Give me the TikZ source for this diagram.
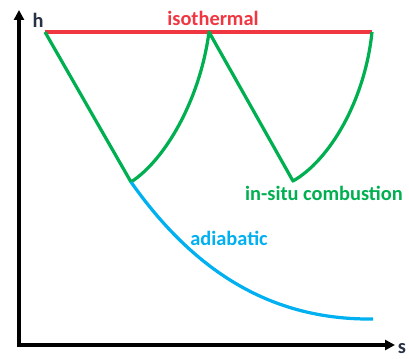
\documentclass[tikz,border=0pt]{standalone}
\usepackage{fontspec}
\setmainfont{Carlito}
\usetikzlibrary{arrows.meta}
\definecolor{isored}{RGB}{240,55,65}
\definecolor{combgreen}{RGB}{0,176,80}
\definecolor{adiablue}{RGB}{0,176,240}
\definecolor{axisink}{RGB}{40,50,70}
\begin{document}
\begin{tikzpicture}[
  x=0.025cm, y=-0.025cm,
  axis/.style={draw=black, line width=2.4pt, -{Triangle[length=7pt,width=7pt]}},
  iso/.style={draw=isored, line width=2.3pt},
  comb/.style={draw=combgreen, line width=2.3pt, line join=round},
  adia/.style={draw=adiablue, line width=2.3pt},
  lbl/.style={font=\fontsize{14.5}{16}\selectfont\bfseries, inner sep=0pt}
]
  \useasboundingbox (0,0) rectangle (409,358);

  % Axes.
  \coordinate (O) at (19,345);
  \coordinate (ytop) at (19,10);
  \coordinate (xend) at (395,345);
  \draw[axis] (O |- 0,347) -- (ytop);
  \draw[axis] (17,345) -- (xend);
  \node[lbl, text=axisink] (h) at (38,20) {h};
  \node[lbl, text=axisink] (s) at (402,349) {s};

  % Isothermal.
  \coordinate (A) at (45,32);
  \coordinate (B) at (209,32);
  \coordinate (C) at (372,32);
  \draw[iso] (A) -- (C);
  \node[lbl, text=isored] (isolbl) at (213,18) {isothermal};

  % In-situ combustion.
  \coordinate (P) at (131,182);
  \coordinate (Q) at (293,181);
  \draw[comb] (A) -- (P) .. controls (165,160) and (200,100) .. (B)
    -- (Q) .. controls (330,160) and (365,100) .. (C);
  \node[lbl, text=combgreen] (comblbl) at (324,193) {in-situ combustion};

  % Adiabatic.
  \coordinate (E) at (373,319);
  \draw[adia] (P) .. controls (200,280) and (280,320) .. (E);
  \node[lbl, text=adiablue] (adialbl) at (229,238) {adiabatic};
\end{tikzpicture}
\end{document}
